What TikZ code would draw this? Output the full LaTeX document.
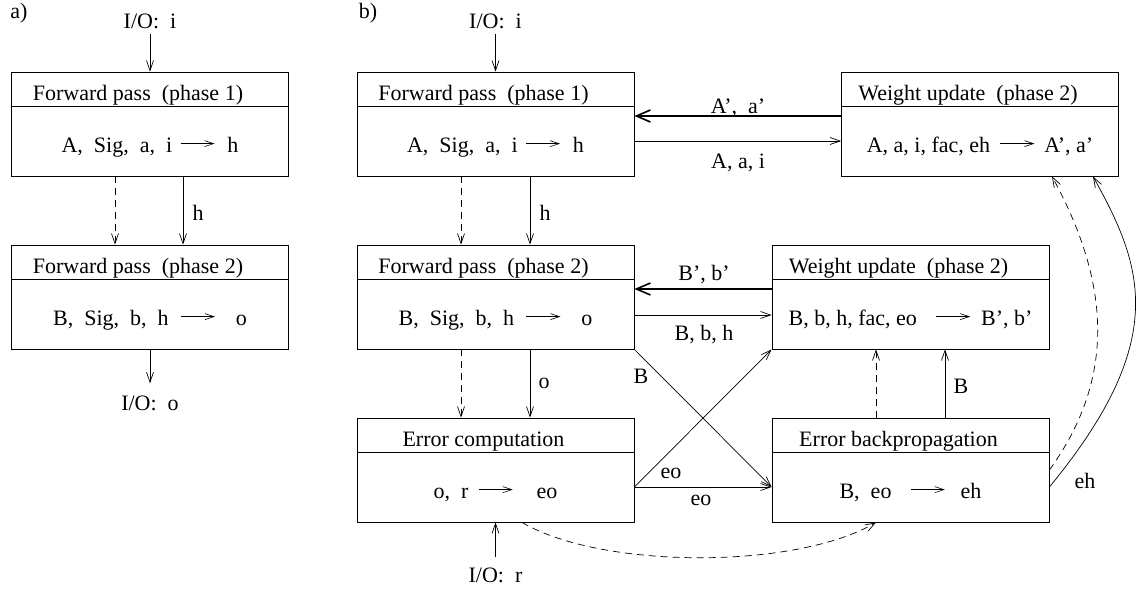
\documentclass[tikz,border=0pt]{standalone}
\usepackage{fontspec}
\setmainfont{Liberation Serif}
\usetikzlibrary{arrows.meta}

% small arrow used inside the box formulas: gap before, gap after (in pt)
\newcommand\into[2]{\hspace{#1pt}\tikz[baseline=-0.38em]\draw[line width=0.6pt,-{Straight Barb[length=9pt,width=6pt]}] (0pt,0pt) -- (34pt,0pt);\hspace{#2pt}}

% process box: name, centre x, top y, title, formula
\newcommand\pbx[5]{%
  \node[pbox] (#1) at (#2,#3+52) {};
  \draw[line width=0.8pt] ([yshift=-35pt]#1.north west) -- ([yshift=-35pt]#1.north east);
  \node[lbl] (#1t) at (#2-12,#3+28) {#4};
  \node[lbl] (#1b) at (#2,#3+80) {#5};
}

\begin{document}
\begin{tikzpicture}[x=1pt,y=-1pt,
  every node/.style={font=\fontsize{22}{26}\selectfont, inner sep=0pt},
  pbox/.style={draw, line width=0.8pt, minimum width=277pt, minimum height=104pt},
  lbl/.style={anchor=base},
  arr/.style={line width=0.7pt, -{Straight Barb[length=10pt,width=7pt]}},
  heavy/.style={line width=1.6pt, -{Straight Barb[length=14pt,width=12pt]}},
  dsh/.style={arr, dash pattern=on 7pt off 5pt}]
\useasboundingbox (0,0) rectangle (1138,589);

% ---------------- a) ----------------
\node[lbl] (pa) at (19,18) {a)};
\pbx{fa1}{150}{72}{Forward pass\ \ (phase 1)}{A,\ \ Sig,\ \ a,\ \ i\into{8}{12}h}
\pbx{fa2}{150}{245}{Forward pass\ \ (phase 2)}{B,\ \ Sig,\ \ b,\ \ h\into{12}{20}o}

\node[lbl] (ioai) at (150,28) {I/O:\ \ i};
\draw[arr] ([yshift=-5pt]ioai.south) -- (fa1.north);
\draw[dsh] ([xshift=-35pt]fa1.south) -- ([xshift=-35pt]fa2.north);
\draw[arr] ([xshift=33pt]fa1.south) -- ([xshift=33pt]fa2.north);
\node[lbl] (lha) at (198,220) {h};
\node[lbl] (ioao) at (150,410) {I/O:\ \ o};
\draw[arr] (fa2.south) -- ([yshift=12pt]ioao.north);

% ---------------- b) ----------------
\node[lbl] (pb) at (368,18) {b)};
\pbx{fp1}{495.5}{72}{Forward pass\ \ (phase 1)}{A,\ \ Sig,\ \ a,\ \ i\into{8}{12}h}
\pbx{wu1}{980}{72}{Weight update\ \ (phase 2)}{A, a, i, fac, eh\into{10}{9}A', a'}
\pbx{fp2}{495.5}{245}{Forward pass\ \ (phase 2)}{B,\ \ Sig,\ \ b,\ \ h\into{12}{20}o}
\pbx{wu2}{910.5}{245}{Weight update\ \ (phase 2)}{B, b, h, fac, eo\into{19}{10}B', b'}
\pbx{ec}{495.5}{418}{Error computation}{o,\ \ r\into{10}{23}eo}
\pbx{eb}{910.5}{418}{Error backpropagation}{B,\ \ eo\into{19}{15}eh}

% inputs and outputs
\node[lbl] (iobi) at (495.5,28) {I/O:\ \ i};
\draw[arr] ([yshift=-5pt]iobi.south) -- (fp1.north);
\node[lbl] (iobr) at (495.5,582) {I/O:\ \ r};
\draw[arr] ([yshift=10pt]iobr.north) -- (ec.south);

% first layer weights
\draw[heavy] ([yshift=8pt]wu1.west) -- ([yshift=8pt]fp1.east);
\node[lbl] (la1) at (738,113) {A', \ a'};
\draw[arr] ([yshift=-17pt]fp1.east) -- ([yshift=-17pt]wu1.west);
\node[lbl] (la2) at (738,168) {A, a, i};

% forward pass chain
\draw[dsh] ([xshift=-34.5pt]fp1.south) -- ([xshift=-34.5pt]fp2.north);
\draw[arr] ([xshift=34.5pt]fp1.south) -- ([xshift=34.5pt]fp2.north);
\node[lbl] (lh) at (545,220) {h};
\draw[dsh] ([xshift=-34.5pt]fp2.south) -- ([xshift=-34.5pt]ec.north);
\draw[arr] ([xshift=34.5pt]fp2.south) -- ([xshift=34.5pt]ec.north);
\node[lbl] (lo) at (544,388) {o};

% second layer weights
\draw[heavy] ([yshift=8pt]wu2.west) -- ([yshift=8pt]fp2.east);
\node[lbl] (lb1) at (704,280) {B', b'};
\draw[arr] ([yshift=-18pt]fp2.east) -- ([yshift=-18pt]wu2.west);
\node[lbl] (lb2) at (704,340) {B, b, h};

% backpropagation to weight update
\draw[dsh] ([xshift=-34.5pt]eb.north) -- ([xshift=-34.5pt]wu2.south);
\draw[arr] ([xshift=34.5pt]eb.north) -- ([xshift=34.5pt]wu2.south);
\node[lbl] (lb3) at (961,393) {B};

% crossing connectors
\draw[arr] (fp2.south east) -- ([yshift=-17pt]eb.west);
\node[lbl] (lb4) at (641,383) {B};
\draw[arr] ([yshift=-17pt]ec.east) -- (wu2.south west);
\node[lbl] (le1) at (671,478) {eo};
\draw[arr] ([yshift=-17pt]ec.east) -- ([yshift=-17pt]eb.west);
\node[lbl] (le2) at (701,505) {eo};

% curved connectors
\draw[dsh] ([xshift=26.5pt]ec.south) .. controls +(80,47) and +(-80,47) .. ([xshift=-34.5pt]eb.south);
\draw[dsh] (eb.east) .. controls +(65,-90) and +(60,110) .. ([xshift=72pt]wu1.south);
\draw[arr] ([yshift=-17pt]eb.east) .. controls +(121,-147) and +(50,90) .. ([xshift=113pt]wu1.south);
\node[lbl] (leh) at (1085,488) {eh};
\end{tikzpicture}
\end{document}
